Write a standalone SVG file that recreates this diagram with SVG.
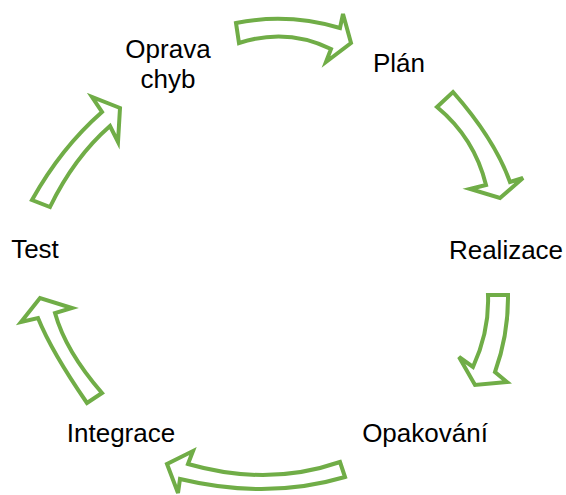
<svg xmlns="http://www.w3.org/2000/svg" width="566" height="495" viewBox="0 0 566 495">
  <style>
    .arrow { fill: #ffffff; stroke: #70AD47; stroke-width: 4; stroke-linejoin: miter; }
    .label { font-family: "Liberation Sans", Arial, sans-serif; font-size: 26px; fill: #000000; text-anchor: middle; }
  </style>
  <rect width="566" height="495" fill="#ffffff"/>

  <!-- Curved block arrows between the steps of the cycle -->
  <g id="connectors">
    <path class="arrow" d="M236,23 Q288,12.5 340,28 L343,14 L351,43 L326,62 L331,49 Q287,27.4 239,43 Z"/>
    <path class="arrow" d="M437,107 L453,92 Q494.5,139 510,182 L523,178 L500,198 L470,189 L486,185 Q474.5,138 437,107 Z"/>
    <path class="arrow" d="M488,295 L508,295 Q508.5,334.5 495,372 L507,382 L475,385 L459,357 L473,367 Q489.5,331 488,295 Z"/>
    <path class="arrow" d="M340,462 L345,477 Q267.5,500 180,479 L178,493 L167,464 L193,451 L188,464 Q268,487 340,462 Z"/>
    <path class="arrow" d="M87,403 Q51.5,351.5 38,318 L21,322 L40,298 L72,308 L55,313 Q65.5,351 102,393 Z"/>
    <path class="arrow" d="M32,200 Q61,148 102,112 L92,97 L120,108 L118,142 L110,126 Q74,157.5 50,207 Z"/>
  </g>

  <!-- Step labels -->
  <g id="oprava-chyb">
    <text class="label" x="168" y="58">Oprava</text>
    <text class="label" x="168" y="88">chyb</text>
  </g>
  <g id="plan">
    <text class="label" x="399" y="72">Plán</text>
  </g>
  <g id="realizace">
    <text class="label" x="506" y="259">Realizace</text>
  </g>
  <g id="opakovani">
    <text class="label" x="425" y="442">Opakování</text>
  </g>
  <g id="integrace">
    <text class="label" x="121" y="442">Integrace</text>
  </g>
  <g id="test">
    <text class="label" x="35" y="258">Test</text>
  </g>
</svg>
